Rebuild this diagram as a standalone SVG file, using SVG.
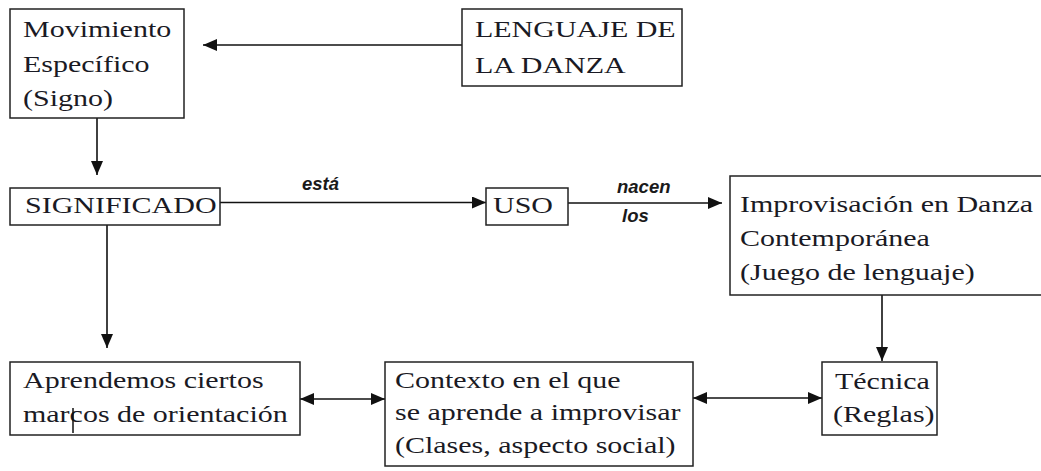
<svg xmlns="http://www.w3.org/2000/svg" width="1041" height="471" viewBox="0 0 1041 471">
<style>
.box{fill:#fff;stroke:#222;stroke-width:1.5}
.t{font-family:"Liberation Serif","Times New Roman",serif;font-size:30px;fill:#1a1a24}
.lbl{font-family:"Liberation Sans",Arial,sans-serif;font-size:18.5px;font-weight:bold;font-style:italic;fill:#1a1a1a}
.c{stroke:#111;stroke-width:1.6;fill:none}
</style>
<defs>
<marker id="ah" markerUnits="userSpaceOnUse" markerWidth="15" markerHeight="13" refX="14" refY="6" orient="auto-start-reverse">
<path d="M0,0 L14,6 L0,12 z" fill="#111"/>
</marker>
</defs>
<rect width="1041" height="471" fill="#fff"/>
<g id="connectors">
<line class="c" x1="462" y1="45" x2="203" y2="45" marker-end="url(#ah)"/>
<line class="c" x1="97" y1="118" x2="97" y2="175" marker-end="url(#ah)"/>
<line class="c" x1="220" y1="202.5" x2="486" y2="202.5" marker-end="url(#ah)"/>
<line class="c" x1="568" y1="203" x2="722" y2="203" marker-end="url(#ah)"/>
<line class="c" x1="107" y1="225" x2="107" y2="348" marker-end="url(#ah)"/>
<line class="c" x1="882" y1="295" x2="882" y2="361" marker-end="url(#ah)"/>
<line class="c" x1="300" y1="399" x2="385" y2="399" marker-start="url(#ah)" marker-end="url(#ah)"/>
<line class="c" x1="693" y1="398" x2="822" y2="398" marker-start="url(#ah)" marker-end="url(#ah)"/>
<text class="lbl" x="302" y="190">está</text>
<text class="lbl" x="617" y="193">nacen</text>
<text class="lbl" x="622" y="222">los</text>
</g>
<g id="n1">
<rect class="box" x="10" y="9" width="174" height="109"/>
<text class="t" transform="matrix(1 0 0 0.76 23 37)">Movimiento</text>
<text class="t" transform="matrix(1 0 0 0.76 23 72)">Específico</text>
<text class="t" transform="matrix(1 0 0 0.76 23 106)">(Signo)</text>
</g>
<g id="n2">
<rect class="box" x="462" y="9" width="220" height="77"/>
<text class="t" transform="matrix(1 0 0 0.76 475 37)">LENGUAJE DE</text>
<text class="t" transform="matrix(1 0 0 0.76 475 73)">LA DANZA</text>
</g>
<g id="n3">
<rect class="box" x="10" y="188" width="210" height="37"/>
<text class="t" transform="matrix(1 0 0 0.76 25 213)">SIGNIFICADO</text>
</g>
<g id="n4">
<rect class="box" x="486" y="188" width="82" height="37"/>
<text class="t" transform="matrix(1 0 0 0.76 493 213)">USO</text>
</g>
<g id="n5">
<rect class="box" x="730" y="176" width="320" height="119"/>
<text class="t" transform="matrix(1 0 0 0.76 740 212)">Improvisación en Danza</text>
<text class="t" transform="matrix(1 0 0 0.76 740 246)">Contemporánea</text>
<text class="t" transform="matrix(1 0 0 0.76 740 280)">(Juego de lenguaje)</text>
</g>
<g id="n6">
<rect class="box" x="10" y="362" width="290" height="73"/>
<text class="t" transform="matrix(1 0 0 0.76 23 388)">Aprendemos ciertos</text>
<text class="t" transform="matrix(1 0 0 0.76 23 422)">marcos de orientación</text>
<line x1="73" y1="408" x2="73" y2="433" stroke="#111" stroke-width="1.5"/>
</g>
<g id="n7">
<rect class="box" x="385" y="362" width="308" height="104"/>
<text class="t" transform="matrix(1 0 0 0.76 395 388)">Contexto en el que</text>
<text class="t" transform="matrix(1 0 0 0.76 395 420)">se aprende a improvisar</text>
<text class="t" transform="matrix(1 0 0 0.76 395 453)">(Clases, aspecto social)</text>
</g>
<g id="n8">
<rect class="box" x="822" y="362" width="115" height="73"/>
<text class="t" transform="matrix(1 0 0 0.76 835 389)">Técnica</text>
<text class="t" transform="matrix(1 0 0 0.76 833 422)">(Reglas)</text>
</g>
</svg>
